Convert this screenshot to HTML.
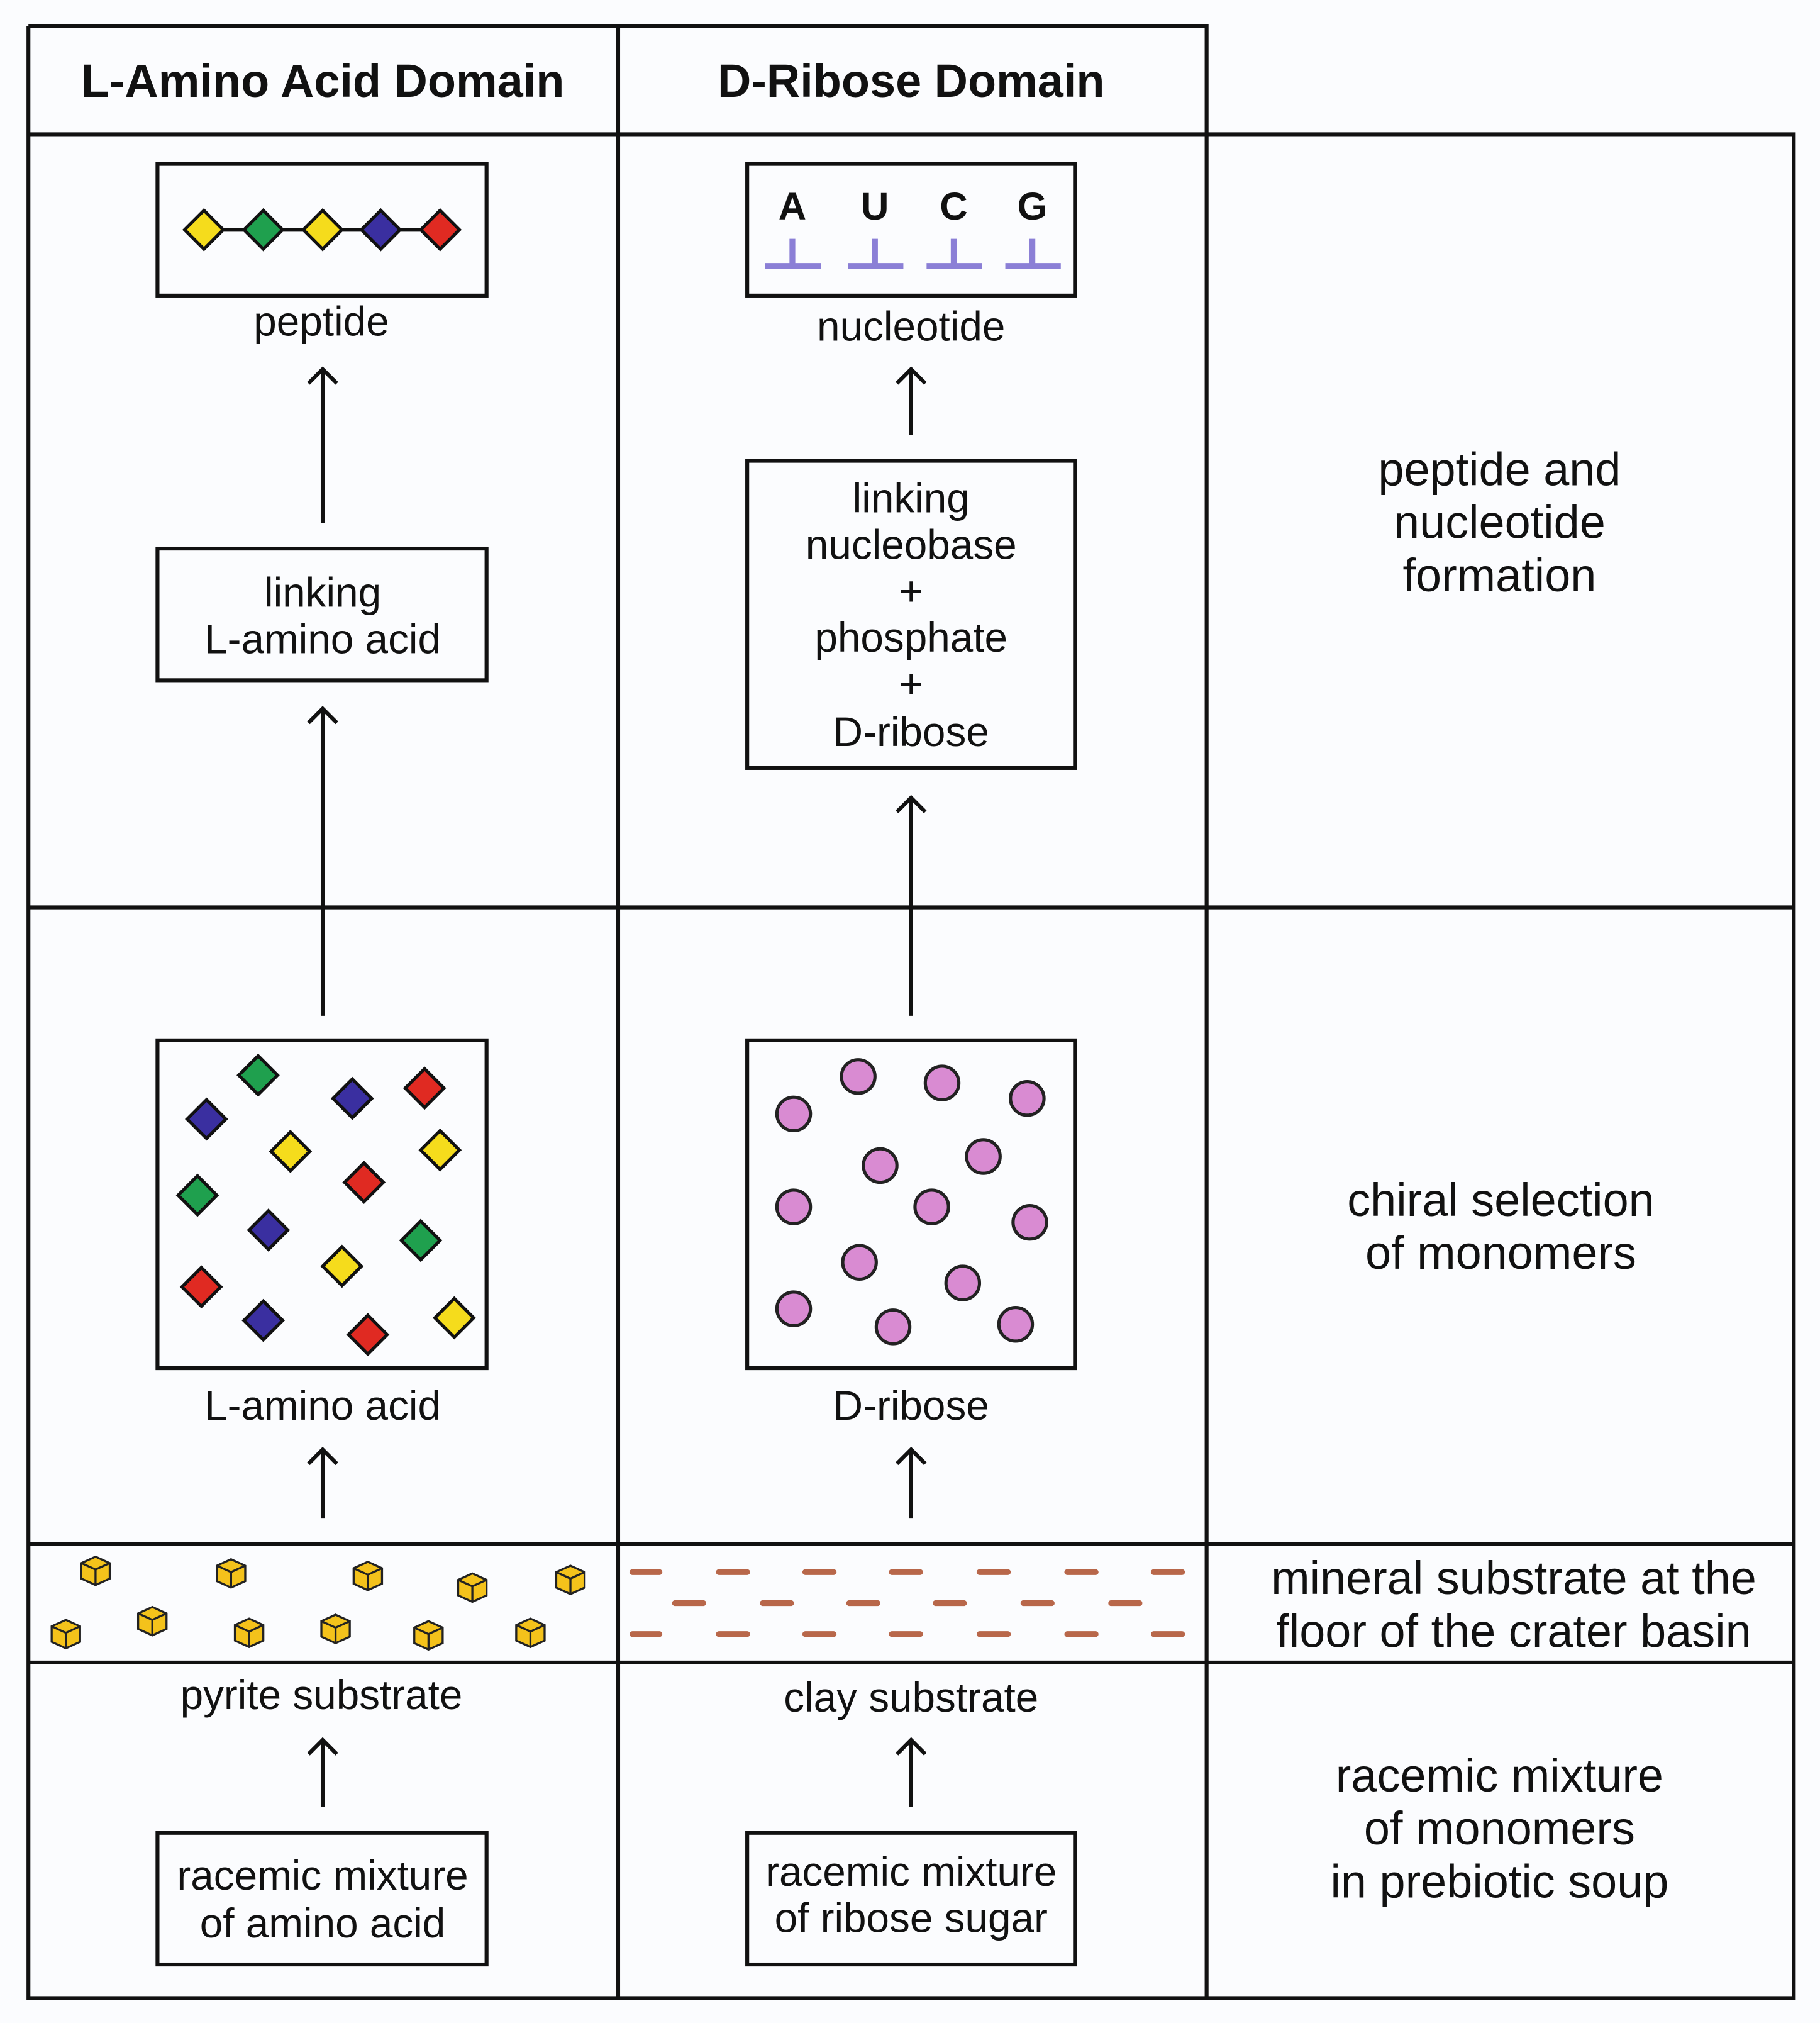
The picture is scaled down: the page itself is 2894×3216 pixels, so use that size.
<!DOCTYPE html>
<html><head><meta charset="utf-8"><style>
html,body{margin:0;padding:0;background:#fbfcfe;}
svg{display:block}
text{font-family:"Liberation Sans",Arial,sans-serif;fill:#111;text-anchor:middle}
</style></head><body>
<svg width="2894" height="3216" viewBox="0 0 1410.3 1567.3" xmlns="http://www.w3.org/2000/svg">
<rect x="0" y="0" width="1410.3" height="1567.3" fill="#fbfcfe"/>
<g stroke="#111" stroke-width="3" fill="none">
<path d="M22 20H935V104M22 20V1548H1390V104H22M479 20V1548M935 104V1548M22 703H1390M22 1196H1390M22 1288H1390"/>
<rect x="122" y="127" width="255" height="102"/>
<rect x="122" y="425" width="255" height="102"/>
<rect x="122" y="806" width="255" height="254"/>
<rect x="122" y="1420" width="255" height="102"/>
<rect x="579" y="127" width="254" height="102"/>
<rect x="579" y="357" width="254" height="238"/>
<rect x="579" y="806" width="254" height="254"/>
<rect x="579" y="1420" width="254" height="102"/>
<path d="M250 405V286M239 297L250 286L261 297"/>
<path d="M250 787V549M239 560L250 549L261 560"/>
<path d="M250 1176V1123M239 1134L250 1123L261 1134"/>
<path d="M250 1400V1348M239 1359L250 1348L261 1359"/>
<path d="M706 337V286M695 297L706 286L717 297"/>
<path d="M706 787V618M695 629L706 618L717 629"/>
<path d="M706 1176V1123M695 1134L706 1123L717 1134"/>
<path d="M706 1400V1348M695 1359L706 1348L717 1359"/>
<path d="M158 178H341"/>
</g>
<text x="250" y="75" font-size="36" font-weight="bold">L-Amino Acid Domain</text>
<text x="706" y="75" font-size="36" font-weight="bold">D-Ribose Domain</text>
<defs>
<path id="dm" d="M0 -15L15 0L0 15L-15 0Z" stroke="#111" stroke-width="2.5"/>
<g id="cube" stroke="#222" stroke-width="1.6" fill="#f4c21b"><path d="M0 -11L11 -6V6L0 11L-11 6V-6Z"/><path d="M-11 -6L0 -1L11 -6M0 -1V11" fill="none"/></g>
</defs>
<g>
<use href="#dm" x="158" y="178" fill="#f5dc1c"/><use href="#dm" x="204" y="178" fill="#1fa04e"/><use href="#dm" x="250" y="178" fill="#f5dc1c"/><use href="#dm" x="295" y="178" fill="#3a2fa0"/><use href="#dm" x="341" y="178" fill="#e02a22"/>
<use href="#dm" x="200" y="833" fill="#1fa04e"/><use href="#dm" x="160" y="867" fill="#3a2fa0"/><use href="#dm" x="273" y="851" fill="#3a2fa0"/><use href="#dm" x="329" y="843" fill="#e02a22"/><use href="#dm" x="225" y="892" fill="#f5dc1c"/><use href="#dm" x="341" y="891" fill="#f5dc1c"/><use href="#dm" x="153" y="926" fill="#1fa04e"/><use href="#dm" x="282" y="916" fill="#e02a22"/><use href="#dm" x="208" y="953" fill="#3a2fa0"/><use href="#dm" x="326" y="961" fill="#1fa04e"/><use href="#dm" x="265" y="981" fill="#f5dc1c"/><use href="#dm" x="156" y="997" fill="#e02a22"/><use href="#dm" x="204" y="1023" fill="#3a2fa0"/><use href="#dm" x="285" y="1034" fill="#e02a22"/><use href="#dm" x="352" y="1021" fill="#f5dc1c"/>
</g>
<g fill="#d98bd2" stroke="#222" stroke-width="2.5">
<circle cx="665" cy="834" r="13"/><circle cx="730" cy="839" r="13"/><circle cx="796" cy="851" r="13"/><circle cx="615" cy="863" r="13"/><circle cx="682" cy="903" r="13"/><circle cx="762" cy="896" r="13"/><circle cx="615" cy="935" r="13"/><circle cx="722" cy="935" r="13"/><circle cx="798" cy="947" r="13"/><circle cx="666" cy="978" r="13"/><circle cx="746" cy="994" r="13"/><circle cx="615" cy="1014" r="13"/><circle cx="692" cy="1028" r="13"/><circle cx="787" cy="1026" r="13"/>
</g>
<g>
<use href="#cube" x="74" y="1217"/><use href="#cube" x="179" y="1219"/><use href="#cube" x="285" y="1221"/><use href="#cube" x="366" y="1230"/><use href="#cube" x="442" y="1224"/><use href="#cube" x="51" y="1266"/><use href="#cube" x="118" y="1256"/><use href="#cube" x="193" y="1265"/><use href="#cube" x="260" y="1262"/><use href="#cube" x="332" y="1267"/><use href="#cube" x="411" y="1265"/>
</g>
<g stroke="#b8674a" stroke-width="4.5" stroke-linecap="round">
<path d="M490 1218H511M557 1218H579M624 1218H646M691 1218H713M759 1218H781M827 1218H849M894 1218H916"/>
<path d="M523 1242H545M591 1242H613M658 1242H680M725 1242H747M793 1242H815M861 1242H883"/>
<path d="M490 1266H511M557 1266H579M624 1266H646M691 1266H713M759 1266H781M827 1266H849M894 1266H916"/>
</g>
<g font-size="30" font-weight="bold">
<text x="614" y="170">A</text><text x="678" y="170">U</text><text x="739" y="170">C</text><text x="800" y="170">G</text>
</g>
<g stroke="#8b7fd6" stroke-width="4.5" fill="none">
<path d="M593 206H636M614 185V206M657 206H700M678 185V206M718 206H761M739 185V206M779 206H822M800 185V206"/>
</g>
<g font-size="32">
<text x="249" y="260">peptide</text>
<text x="250" y="470">linking</text>
<text x="250" y="506">L-amino acid</text>
<text x="250" y="1100">L-amino acid</text>
<text x="249" y="1324">pyrite substrate</text>
<text x="250" y="1464">racemic mixture</text>
<text x="250" y="1501">of amino acid</text>
<text x="706" y="264">nucleotide</text>
<text x="706" y="397">linking</text>
<text x="706" y="433">nucleobase</text>
<text x="706" y="469">+</text>
<text x="706" y="505">phosphate</text>
<text x="706" y="541">+</text>
<text x="706" y="578">D-ribose</text>
<text x="706" y="1100">D-ribose</text>
<text x="706" y="1326">clay substrate</text>
<text x="706" y="1461">racemic mixture</text>
<text x="706" y="1497">of ribose sugar</text>
</g>
<g font-size="36">
<text x="1162" y="376">peptide and</text>
<text x="1162" y="417">nucleotide</text>
<text x="1162" y="458">formation</text>
<text x="1163" y="942">chiral selection</text>
<text x="1163" y="983">of monomers</text>
<text x="1173" y="1235">mineral substrate at the</text>
<text x="1173" y="1276">floor of the crater basin</text>
<text x="1162" y="1388">racemic mixture</text>
<text x="1162" y="1429">of monomers</text>
<text x="1162" y="1470">in prebiotic soup</text>
</g>
</svg>
</body></html>
